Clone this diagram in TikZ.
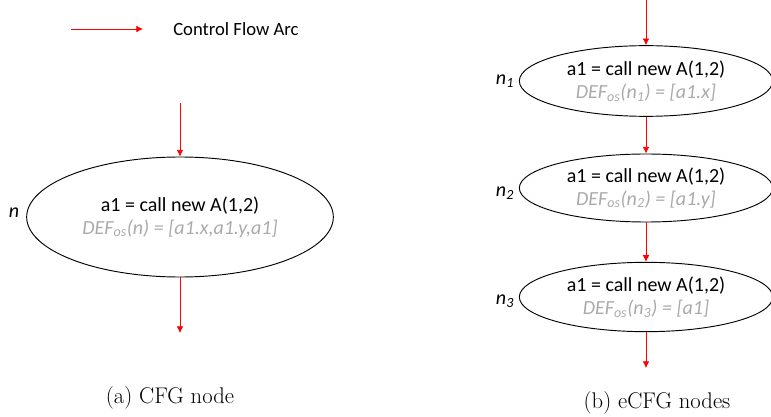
\documentclass[tikz,border=0pt]{standalone}
\usepackage{fontspec}
\newfontfamily\calibri{Carlito}
\usetikzlibrary{shapes.geometric,arrows.meta}
\definecolor{defgray}{RGB}{170,170,170}
\tikzset{
  cfgnode/.style={draw, line width=0.7pt, ellipse, inner sep=0pt, align=center, font=\calibri\fontsize{15}{17}\selectfont},
  flowarc/.style={red, line width=0.6pt, -{Latex[length=5pt,width=5pt]}},
  nodelabel/.style={font=\calibri\itshape\fontsize{15}{17}\selectfont},
  caption/.style={font=\fontsize{17}{20}\selectfont}
}
\newcommand{\defos}[2]{{\color{defgray}\itshape DEF\textsubscript{os}(#1) = [#2]}}
\begin{document}
\begin{tikzpicture}[x=0.75pt, y=-0.75pt]
    \useasboundingbox (0,0) rectangle (771,417);

    % Legend
    \coordinate (legstart) at (71,29);
    \coordinate (legtip) at (143,29);
    \draw[flowarc] (legstart) -- (legtip);
    \node[anchor=west, inner sep=0pt, font=\calibri\fontsize{14}{16}\selectfont] (legtext) at (173,29) {Control Flow Arc};

    % (a) CFG node
    \node[cfgnode, minimum width=230pt, minimum height=90pt] (n) at (180,217)
        {a1 = call new A(1,2)\\ \defos{n}{a1.x,a1.y,a1}};
    \node[nodelabel] (lbln) at (14,213) {n};
    \coordinate (nin) at (180,103);
    \coordinate (nout) at (180,333);
    \draw[flowarc] (nin) -- (n.north);
    \draw[flowarc] (n.south) -- (nout);
    \node[caption] (capa) at (170,398) {(a) CFG node};

    % (b) eCFG nodes
    \node[cfgnode, minimum width=190pt, minimum height=53pt] (n1) at (646,81)
        {a1 = call new A(1,2)\\ \defos{n\textsubscript{1}}{a1.x}};
    \node[cfgnode, minimum width=190pt, minimum height=51pt] (n2) at (646,188)
        {a1 = call new A(1,2)\\ \defos{n\textsubscript{2}}{a1.y}};
    \node[cfgnode, minimum width=190pt, minimum height=52pt] (n3) at (646,297)
        {a1 = call new A(1,2)\\ \defos{n\textsubscript{3}}{a1}};
    \node[nodelabel] (lbln1) at (505,81) {n\textsubscript{1}};
    \node[nodelabel] (lbln2) at (505,193) {n\textsubscript{2}};
    \node[nodelabel] (lbln3) at (505,301) {n\textsubscript{3}};
    \coordinate (n1in) at (646,0);
    \coordinate (n3out) at (646,368);
    \draw[flowarc] (n1in) -- (n1.north);
    \draw[flowarc] (n1.south) -- (n2.north);
    \draw[flowarc] (n2.south) -- (n3.north);
    \draw[flowarc] (n3.south) -- (n3out);
    \node[caption] (capb) at (657,403) {(b) eCFG nodes};
\end{tikzpicture}
\end{document}
